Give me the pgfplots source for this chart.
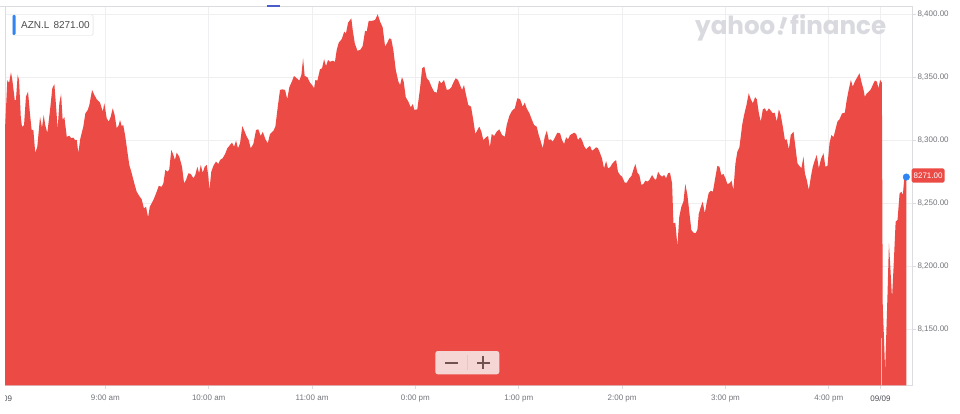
\documentclass[border=0pt]{standalone}
\usepackage{fontspec}
\setmainfont{Liberation Sans}
\newfontfamily\wmfont{Poppins}
\usepackage{pgfplots}
\pgfplotsset{compat=1.18}
\definecolor{yred}{HTML}{EC4A45}
\definecolor{gridc}{HTML}{EFEFF2}
\definecolor{axisgray}{HTML}{DCDCE0}
\definecolor{lbl}{HTML}{74767C}
\definecolor{lbldark}{HTML}{4E5056}
\definecolor{wm}{HTML}{D9DADF}
\definecolor{dotblue}{HTML}{2F86F2}
\definecolor{barblue}{HTML}{4A5CC8}
\definecolor{btnbg}{HTML}{F6D6D4}
\definecolor{btndiv}{HTML}{EBC3C0}
\definecolor{btnfg}{HTML}{70524F}
\begin{document}
\begin{tikzpicture}[x=1pt,y=1pt]
\useasboundingbox (0,0) rectangle (960,413);
\fill[white] (0,0) rectangle (960,413);
\begin{axis}[at={(5pt,27.7pt)}, anchor=south west, scale only axis,
  width=907pt, height=379.3pt,
  xmin=1.74, xmax=528.3, ymin=8105.5, ymax=8406.9,
  axis line style={axisgray, line width=0.8pt},
  xmajorgrids, ymajorgrids,
  grid style={gridc, line width=0.7pt},
  tick style={axisgray, line width=0.7pt},
  tick align=outside, major tick length=4pt,
  xtick pos=bottom, ytick pos=right, yticklabel pos=right,
  xtick={60,120,180,240,300,360,420,480,510},
  xticklabels={9:00 am, 10:00 am, 11:00 am, 0:00 pm, 1:00 pm, 2:00 pm, 3:00 pm, 4:00 pm, \textcolor{lbldark}{09/09}},
  ytick={8150,8200,8250,8300,8350,8400},
  xticklabel style={font=\fontsize{8}{9}\selectfont, text=lbl, yshift=-2.5pt},
  yticklabel style={font=\fontsize{8}{9}\selectfont, text=lbl, xshift=-2pt,
    /pgf/number format/fixed, /pgf/number format/fixed zerofill,
    /pgf/number format/precision=2, /pgf/number format/1000 sep={,},
    /pgf/number format/assume math mode=true},
  clip mode=individual,
]
\addplot[fill=yred, draw=none] coordinates {
(1.7,8105.5)
(1.7,8307.6) (3.1,8348.1) (4.1,8345.7) (5.2,8354.2) (6.0,8348.1) (7.4,8332.2) (8.1,8332.2) (9.1,8352.1) (9.9,8348.1) (10.9,8318.9)
(11.6,8310.8) (12.8,8312.3) (13.9,8334.8) (15.1,8338.8) (16.3,8320.3) (17.2,8308.4) (18.2,8308.4) (19.3,8290.1) (20.5,8295.1) (22.1,8318.9)
(23.2,8310.0) (24.2,8320.3) (25.1,8312.3) (26.3,8306.0) (27.9,8324.3) (29.2,8341.5) (30.4,8344.9) (31.4,8326.9) (32.3,8309.2) (33.3,8329.6)
(34.3,8337.0) (35.2,8316.3) (36.2,8318.7) (37.6,8303.0) (39.1,8303.8) (40.2,8301.8) (41.4,8302.3) (42.4,8300.4) (43.4,8300.4) (44.3,8290.1)
(45.5,8301.8) (47.2,8311.0) (48.4,8321.6) (49.8,8324.3) (50.7,8328.2) (52.3,8340.2) (53.6,8336.2) (55.0,8332.8) (56.9,8330.1) (58.5,8322.9)
(59.4,8329.6) (60.8,8317.7) (62.0,8315.0) (63.1,8318.9) (64.3,8325.6) (65.4,8320.3) (66.6,8309.7) (67.8,8312.3) (68.5,8316.3) (69.5,8311.5)
(70.4,8312.3) (71.6,8303.0) (72.8,8291.1) (73.9,8280.6) (75.3,8274.0) (76.8,8266.0) (78.2,8259.3) (79.7,8255.9) (81.1,8253.3) (82.4,8246.1)
(83.6,8247.4) (84.8,8239.0) (85.8,8247.4) (86.9,8250.1) (88.3,8254.1) (89.8,8259.3) (91.0,8263.9) (92.7,8263.3) (93.7,8266.0) (94.8,8276.6)
(96.2,8275.2) (97.1,8277.1) (98.3,8292.5) (99.5,8288.5) (100.4,8284.5) (101.4,8290.3) (102.9,8287.2) (104.5,8279.2) (105.7,8266.0) (106.8,8268.6)
(108.2,8274.0) (109.6,8273.4) (111.1,8270.0) (112.2,8272.6) (113.4,8279.2) (114.4,8274.0) (115.4,8280.6) (116.5,8274.4) (117.7,8279.2) (118.9,8280.6)
(119.8,8271.3) (120.4,8260.7) (121.5,8275.2) (122.7,8279.8) (124.2,8283.2) (125.6,8281.4) (126.6,8284.5) (128.1,8285.9) (129.5,8289.3) (130.8,8293.8)
(132.4,8296.5) (133.5,8298.3) (134.7,8295.1) (135.9,8299.9) (137.0,8293.8) (138.2,8297.8) (139.5,8311.5) (140.9,8307.0) (142.1,8303.0) (143.2,8300.4)
(144.4,8293.8) (145.9,8297.2) (147.5,8308.4) (148.8,8308.9) (150.2,8303.6) (151.4,8307.0) (152.9,8301.0) (154.3,8297.8) (155.6,8305.2) (157.5,8307.6)
(158.7,8311.0) (160.1,8326.9) (161.4,8340.2) (162.7,8340.7) (164.3,8340.2) (165.6,8332.8) (166.8,8342.3) (168.4,8347.3) (169.5,8351.3) (171.1,8349.5)
(172.6,8347.6) (173.8,8352.1) (174.8,8365.4) (175.7,8351.3) (177.3,8350.3) (178.8,8346.0) (180.0,8344.1) (181.2,8341.5) (181.9,8348.1) (183.1,8347.6)
(184.6,8356.6) (185.8,8357.4) (187.0,8364.6) (188.1,8359.2) (189.3,8364.0) (190.4,8362.6) (192.0,8363.4) (193.3,8362.6) (194.3,8371.9) (195.5,8377.8)
(197.2,8380.5) (198.7,8386.5) (199.7,8385.2) (200.9,8393.6) (202.8,8397.1) (203.6,8387.8) (204.8,8377.3) (206.3,8371.4) (207.9,8371.9) (209.4,8375.1)
(210.8,8387.3) (211.7,8386.5) (212.9,8395.0) (214.6,8395.0) (216.6,8395.8) (218.1,8400.3) (219.5,8394.4) (221.0,8390.0) (222.4,8374.6) (223.7,8377.8)
(224.9,8381.2) (226.0,8380.5) (227.2,8371.9) (228.6,8356.1) (230.1,8346.8) (231.1,8344.1) (232.2,8350.3) (233.2,8346.8) (234.4,8334.4) (235.9,8330.9)
(237.3,8326.4) (238.5,8329.0) (239.4,8324.3) (241.1,8324.8) (242.7,8341.5) (243.9,8357.4) (245.2,8358.7) (246.6,8349.5) (247.9,8347.6) (249.5,8342.3)
(250.8,8338.8) (252.4,8338.0) (253.7,8347.6) (255.1,8345.5) (256.6,8348.1) (258.2,8340.2) (259.7,8340.7) (260.9,8342.3) (262.0,8346.0) (263.4,8349.5)
(264.7,8348.1) (265.9,8344.1) (267.1,8340.2) (268.2,8344.1) (269.4,8336.2) (270.7,8328.2) (272.3,8326.9) (273.6,8316.3) (274.8,8305.2) (276.0,8308.4)
(277.1,8311.0) (278.3,8307.0) (279.4,8300.4) (281.0,8302.6) (282.2,8303.6) (283.2,8294.6) (284.3,8305.2) (285.7,8303.6) (287.2,8307.0) (288.7,8308.9)
(290.3,8304.4) (291.9,8303.0) (293.0,8312.3) (294.5,8319.5) (296.1,8323.7) (297.7,8325.6) (299.2,8333.6) (300.8,8332.8) (302.3,8326.9) (303.5,8330.1)
(304.6,8325.6) (306.2,8321.6) (307.5,8316.9) (308.9,8312.3) (310.4,8311.0) (311.6,8304.4) (312.8,8299.1) (313.9,8293.8) (315.1,8303.0) (316.3,8307.8)
(317.4,8300.4) (318.6,8300.9) (319.7,8299.1) (321.1,8302.6) (322.4,8306.2) (324.0,8305.7) (325.1,8300.4) (326.3,8297.2) (327.5,8302.6) (328.6,8300.9)
(329.8,8304.4) (330.9,8305.2) (332.1,8306.2) (333.3,8305.2) (334.4,8300.4) (335.6,8302.6) (336.7,8300.4) (337.9,8295.7) (339.1,8293.0) (340.2,8294.6)
(341.4,8295.7) (342.5,8291.9) (343.7,8293.0) (344.9,8294.6) (346.0,8293.8) (347.2,8289.9) (348.3,8285.9) (349.5,8277.9) (350.7,8283.7) (351.8,8277.9)
(353.0,8278.7) (354.2,8281.4) (355.3,8283.2) (356.5,8284.5) (357.6,8275.2) (358.8,8272.6) (360.0,8271.3) (361.5,8266.5) (362.7,8266.5) (364.2,8270.0)
(365.4,8271.8) (366.5,8276.6) (367.7,8281.4) (368.9,8274.4) (370.0,8272.6) (371.2,8264.7) (372.4,8265.5) (373.5,8268.1) (374.7,8267.3) (375.8,8268.6)
(377.4,8272.6) (378.5,8270.0) (379.7,8268.6) (380.9,8275.2) (382.0,8272.6) (383.2,8271.3) (384.4,8272.6) (385.5,8270.0) (386.7,8274.0) (387.8,8274.4)
(389.0,8266.0) (389.8,8234.2) (390.9,8234.7) (392.1,8216.2) (393.2,8239.5) (394.4,8247.4) (395.6,8251.4) (396.7,8265.5) (397.9,8256.7) (399.1,8242.2)
(400.2,8228.9) (401.4,8226.8) (402.6,8226.3) (403.7,8228.9) (404.5,8241.6) (405.7,8247.4) (406.8,8251.4) (408.0,8242.2) (409.2,8251.4) (410.3,8258.5)
(411.5,8260.1) (412.7,8259.3) (414.2,8271.3) (415.3,8279.8) (416.5,8279.2) (417.6,8272.6) (418.8,8273.4) (420.0,8270.0) (421.1,8265.5) (422.3,8266.0)
(423.5,8268.1) (424.6,8260.7) (425.8,8281.9) (426.9,8291.1) (428.1,8294.6) (429.7,8312.3) (430.8,8320.3) (432.0,8326.9) (433.5,8337.5) (434.7,8332.8)
(435.9,8329.6) (437.2,8334.4) (438.2,8332.8) (439.4,8321.6) (440.5,8315.0) (441.7,8324.8) (442.8,8325.6) (444.0,8322.9) (445.2,8325.6) (446.3,8323.7)
(447.5,8321.6) (448.6,8322.1) (449.8,8315.0) (451.0,8324.8) (452.1,8320.3) (453.3,8311.0) (454.5,8300.4) (455.6,8300.9) (456.8,8293.0) (457.9,8304.4)
(459.5,8307.0) (460.6,8295.1) (461.8,8281.9) (462.9,8279.8) (464.1,8278.0) (465.3,8287.2) (466.1,8274.0) (467.2,8268.6) (468.4,8260.7) (469.6,8271.3)
(470.7,8279.2) (471.9,8284.5) (473.0,8288.5) (474.2,8277.9) (475.4,8285.1) (476.9,8289.9) (478.0,8279.2) (479.2,8279.8) (480.4,8297.8) (481.5,8304.4)
(482.7,8302.6) (483.8,8308.4) (485.0,8315.0) (486.2,8316.9) (487.7,8321.6) (489.3,8322.1) (490.4,8332.2) (491.6,8340.7) (492.8,8348.1) (493.9,8342.8)
(495.1,8346.8) (496.2,8349.5) (497.8,8353.4) (498.9,8346.8) (500.1,8340.7) (500.9,8334.8) (502.1,8337.5) (503.2,8338.8) (504.4,8340.7) (505.5,8344.1)
(506.7,8347.6) (507.9,8346.8) (508.8,8341.5) (509.8,8348.1) (510.4,8346.8) (510.8,8346.0) (511.3,8170.0) (512.7,8117.0) (514.1,8178.8) (514.9,8218.3)
(515.7,8199.7) (516.7,8174.6) (517.6,8199.7) (518.8,8235.5) (519.9,8236.9) (521.1,8258.1) (522.2,8259.3) (523.0,8256.7) (523.8,8270.0) (525.0,8271.0)
(525.0,8105.5)
};
\addplot[draw=white!75!gray, line width=0.7pt, opacity=0.8] coordinates {(510.5,8105.5) (510.5,8143)};
\addplot[only marks, mark=*, mark size=3.3pt, color=dotblue] coordinates {(525.0,8271.0)};
\end{axis}
% top container line and indicator
\draw[axisgray, line width=0.8pt] (0,407) -- (912,407);
\fill[barblue] (266.7,406.2) rectangle (280,408.4);
% left date label, cut at the plot's left edge as in the reference
\begin{scope}
\clip (5,0) rectangle (100,30);
\node[font=\fontsize{8}{9}\selectfont, text=lbldark] at (2,14.7) {09/09};
\end{scope}
% symbol box
\fill[black!8, rounded corners=2pt] (12.2,377.3) rectangle (93.5,398.3);
\fill[white, rounded corners=2pt] (12.7,378) rectangle (92.7,398);
\fill[dotblue, rounded corners=1pt] (12.7,378) rectangle (15.5,398);
\node[anchor=west, inner sep=0pt, font=\fontsize{10}{12}\selectfont, text=black!70] at (21,388) {AZN.L\hspace{4pt}8271.00};
% price label
\fill[yred, rounded corners=1.5pt] (911.7,230.3) rectangle (944.5,244.7);
\node[font=\fontsize{8}{9}\selectfont, text=white, inner sep=0pt] at (928.1,237.5) {8271.00};
% watermark
\node[anchor=base west, inner sep=0pt, text=wm] at (695,378) {\resizebox{191pt}{20pt}{\wmfont\bfseries yahoo\rotatebox[origin=c]{-18}{!}finance}};
% zoom buttons
\fill[btnbg, rounded corners=2.5pt] (435.3,38.7) rectangle (499.3,62);
\draw[btndiv, line width=0.8pt] (467.3,43) -- (467.3,58);
\draw[btnfg, line width=2.2pt] (445,50.3) -- (457.5,50.3);
\draw[btnfg, line width=2.2pt] (477,50.3) -- (489.5,50.3);
\draw[btnfg, line width=2.2pt] (483.25,44) -- (483.25,56.6);
\end{tikzpicture}
\end{document}
